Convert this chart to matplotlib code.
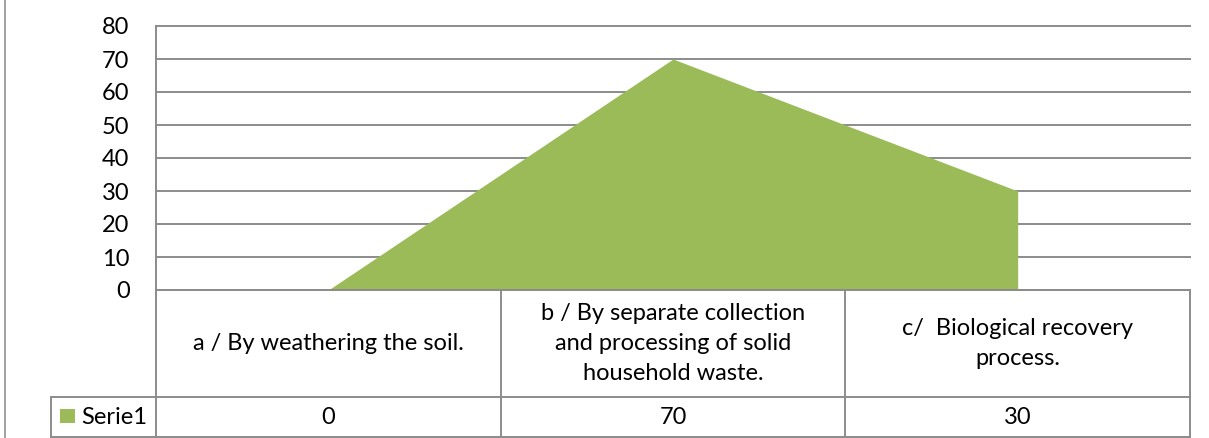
import matplotlib.pyplot as plt
from matplotlib.patches import Rectangle

# data
categories = ['a / By weathering the soil.',
              'b / By separate collection\nand processing of solid\nhousehold waste.',
              'c/  Biological recovery\nprocess.']
series_name = 'Serie1'
values = [0, 70, 30]
y_ticks = [0, 10, 20, 30, 40, 50, 60, 70, 80]

GREEN = '#9BBB59'
GRID = '#8C8C8C'
W, H = 1209, 438

plt.rcParams['font.family'] = ['Lato', 'DejaVu Sans']
plt.rcParams['font.size'] = 17

fig = plt.figure(figsize=(W / 100, H / 100), dpi=100)

# plot area in pixels
left, right, top, bottom = 156, 1190, 26, 290
ax = fig.add_axes([left / W, 1 - bottom / H, (right - left) / W, (bottom - top) / H])

n = len(categories)
xs = [i + 0.5 for i in range(n)]
ax.fill_between(xs, values, 0, color=GREEN, linewidth=0, zorder=2)
for t in y_ticks:
    ax.axhline(t, color=GRID, linewidth=1.4, zorder=1, clip_on=False)

ax.set_xlim(0, n)
ax.set_ylim(0, max(y_ticks))
ax.set_yticks(y_ticks)
ax.set_xticks([])
ax.tick_params(axis='y', length=0, pad=19, labelsize=17)
for s in ['top', 'right', 'bottom']:
    ax.spines[s].set_visible(False)
ax.spines['left'].set_color(GRID)
ax.spines['left'].set_linewidth(1.4)

# data table drawn in pixel space under the plot area
ov = fig.add_axes([0, 0, 1, 1])
ov.set_xlim(0, W)
ov.set_ylim(H, 0)
ov.axis('off')
ov.patch.set_alpha(0)

col_w = (right - left) / n
def col_px(i):
    return left + i * col_w

row_mid = 397
tab_bot = 437
key_left = 51
kw = dict(color=GRID, linewidth=1.4)

ov.plot([5, 5], [0, H], color='#A0A0A0', linewidth=1.4)
ov.plot([left, right], [bottom, bottom], **kw)
ov.plot([key_left, right], [row_mid, row_mid], **kw)
ov.plot([key_left, right], [tab_bot, tab_bot], **kw)
for i in range(n + 1):
    ov.plot([col_px(i), col_px(i)], [bottom, tab_bot], **kw)
ov.plot([key_left, key_left], [row_mid, tab_bot], **kw)

for i, (cat, v) in enumerate(zip(categories, values)):
    cx = col_px(i + 0.5)
    ov.text(cx, (bottom + row_mid) / 2, cat, ha='center', va='center',
            multialignment='center', linespacing=1.55)
    ov.text(cx, (row_mid + tab_bot) / 2, str(v), ha='center', va='center')

ov.add_patch(Rectangle((60, 409), 15, 14, color=GREEN, linewidth=0))
ov.text(81, (row_mid + tab_bot) / 2, series_name, ha='left', va='center')

fig.savefig('out.png', dpi=100)
